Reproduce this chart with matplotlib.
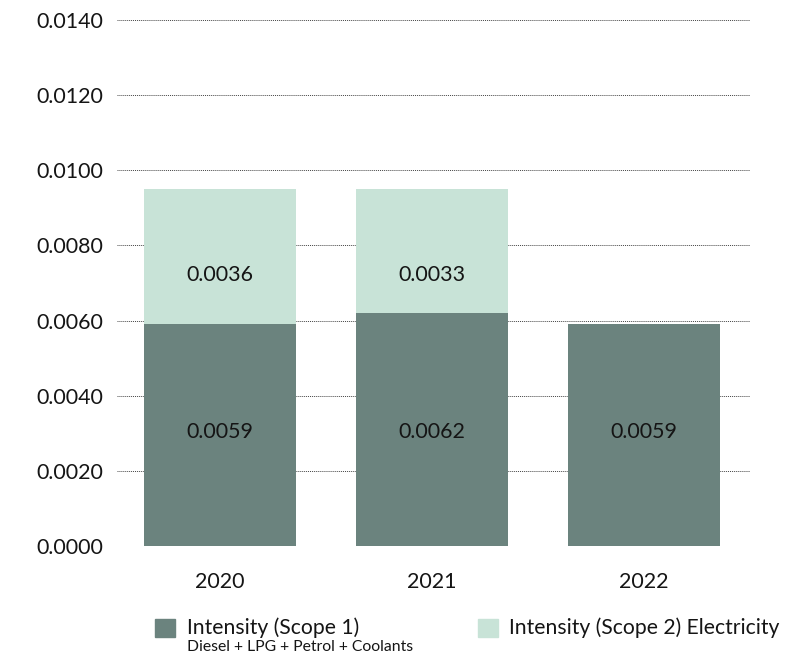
import matplotlib
matplotlib.use("Agg")
import matplotlib.pyplot as plt
from matplotlib.patches import Rectangle

plt.rcParams['font.family'] = ['Lato', 'DejaVu Sans']

years = ["2020", "2021", "2022"]
scope1 = [0.0059, 0.0062, 0.0059]
scope2 = [0.0036, 0.0033, 0.0]
yticks = [0.0, 0.002, 0.004, 0.006, 0.008, 0.010, 0.012, 0.014]

dark = "#6b837e"
light = "#c8e3d7"
ink = "#151515"
fs = 15.4

fig = plt.figure(figsize=(7.96, 6.56), dpi=100)
ax = fig.add_axes([117/796, 110/656, 633/796, 526/656])

x = list(range(len(years)))
w = 0.72
ax.bar(x, scope1, width=w, color=dark, zorder=2)
ax.bar(x, scope2, width=w, bottom=scope1, color=light, zorder=2)

# value labels sit on two fixed rows (axes fraction)
row1, row2 = 0.2167, 0.515
trans = ax.get_xaxis_transform()
for i in x:
    ax.text(i, row1, f"{scope1[i]:.4f}", transform=trans, ha="center",
            va="center", fontsize=fs, color=ink, zorder=3)
    if scope2[i] > 0:
        ax.text(i, row2, f"{scope2[i]:.4f}", transform=trans, ha="center",
                va="center", fontsize=fs, color=ink, zorder=3)

ax.set_xlim(-0.486, 2.5)
ax.set_ylim(0, 0.014)
ax.set_yticks(yticks)
ax.set_yticklabels([f"{v:.4f}" for v in yticks])
ax.set_xticks(x)
ax.set_xticklabels(years)
ax.tick_params(axis="y", length=0, pad=10, labelsize=fs, colors=ink)
ax.tick_params(axis="x", length=0, pad=19, labelsize=fs, colors=ink)
ax.grid(axis="y", linestyle=(0, (1, 1)), color="#444444", linewidth=0.7, zorder=1)
ax.set_axisbelow(True)
for s in ax.spines.values():
    s.set_visible(False)

# legend drawn in figure pixel coordinates
def px(xp, yp):
    return xp / 796, 1 - yp / 656

fig.patches.append(Rectangle(px(155, 637), 20/796, 18/656, transform=fig.transFigure,
                             color=dark, figure=fig))
fig.text(*px(187, 628), "Intensity (Scope 1)", fontsize=15.2, va="center", color=ink)
fig.text(*px(187, 647), "Diesel + LPG + Petrol + Coolants", fontsize=11.3, va="center",
         color=ink)
fig.patches.append(Rectangle(px(478, 637), 20/796, 18/656, transform=fig.transFigure,
                             color=light, figure=fig))
fig.text(*px(509, 628), "Intensity (Scope 2) Electricity", fontsize=15.2, va="center",
         color=ink)

fig.savefig("out.png", dpi=100)
